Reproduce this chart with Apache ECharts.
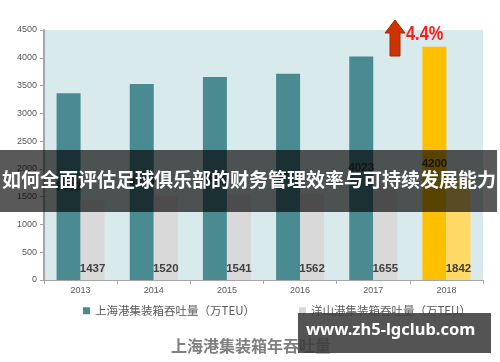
<!DOCTYPE html>
<html>
<head>
<meta charset="utf-8">
<script src="https://cdn.jsdelivr.net/npm/echarts@6/dist/echarts.min.js"></script>
<style>
html,body{margin:0;padding:0;background:#fff;}
#chart{width:500px;height:362px;}
</style>
</head>
<body>
<div id="chart"></div>
<script>
// Data
const years = ['2013', '2014', '2015', '2016', '2017', '2018'];
const shanghaiPort = [3362, 3529, 3654, 3713, 4023, 4200];
const yangshanPort = [1437, 1520, 1541, 1562, 1655, 1842];
const seriesNames = ['上海港集装箱吞吐量（万TEU）', '洋山港集装箱吞吐量（万TEU）'];
const yTicks = [0, 500, 1000, 1500, 2000, 2500, 3000, 3500, 4000, 4500];
const chartTitle = '上海港集装箱年吞吐量';
const growthLabel = '4.4%';
const bannerText = '如何全面评估足球俱乐部的财务管理效率与可持续发展能力';
const watermarkText = 'www.zh5-lgclub.com';

const highlightIndex = years.length - 1;
const tealColor = '#4A8B92';
const grayColor = '#D9D9D9';

const chart = echarts.init(document.getElementById('chart'), null, {renderer: 'canvas'});
const option = {
  animation: false,
  backgroundColor: '#ffffff',
  textStyle: {fontFamily: 'Liberation Sans, Arial, sans-serif'},
  title: {
    text: chartTitle,
    left: 166,
    top: 333,
    textStyle: {fontSize: 16, fontWeight: 'bold', color: '#7F7F7F', fontFamily: 'Noto Sans CJK SC'}
  },
  legend: {
    data: seriesNames.map(n => ({name: n, icon: 'rect'})),
    left: 78,
    top: 300,
    itemWidth: 7,
    itemHeight: 7,
    itemGap: 44,
    textStyle: {fontSize: 11.5, color: '#595959', fontFamily: 'Noto Sans CJK SC'}
  },
  grid: {
    left: 44, top: 30, width: 439, height: 250,
    show: true, backgroundColor: '#D9EAEC', borderWidth: 0
  },
  xAxis: {
    type: 'category',
    data: years,
    axisLine: {lineStyle: {color: '#A6A6A6', width: 1}},
    axisTick: {show: true, length: 4, lineStyle: {color: '#A6A6A6'}},
    axisLabel: {fontSize: 9, color: '#595959', margin: 6}
  },
  yAxis: {
    type: 'value',
    min: yTicks[0],
    max: yTicks[yTicks.length - 1],
    interval: 500,
    splitLine: {show: false},
    axisLine: {show: true, lineStyle: {color: '#A6A6A6', width: 2}},
    axisTick: {show: true, length: 4, lineStyle: {color: '#A6A6A6'}},
    axisLabel: {fontSize: 9, color: '#595959', margin: 7, formatter: v => String(v)}
  },
  series: [
    {
      name: seriesNames[0],
      type: 'bar',
      barWidth: 24,
      barGap: '0%',
      itemStyle: {color: tealColor},
      data: shanghaiPort.map((v, i) => i === highlightIndex ? {value: v, itemStyle: {color: '#FFC000'}} : v),
      label: {show: true, position: 'inside', fontSize: 11.5, fontWeight: 'bold', color: '#404040'}
    },
    {
      name: seriesNames[1],
      type: 'bar',
      barWidth: 24,
      barGap: '0%',
      itemStyle: {color: grayColor},
      data: yangshanPort.map((v, i) => i === highlightIndex ? {value: v, itemStyle: {color: '#FFD966'}} : v),
      label: {show: true, position: 'insideBottom', distance: 5, fontSize: 11.5, fontWeight: 'bold', color: '#404040'}
    }
  ],
  graphic: [
    {
      type: 'polygon', z: 100,
      shape: {points: [[385, 33], [395, 20], [405, 33], [400, 33], [400, 56], [390, 56], [390, 33]]},
      style: {fill: '#CC3300', stroke: '#A62900', lineWidth: 1}
    },
    {
      type: 'text', z: 100, x: 406, y: 24, scaleX: 0.78,
      style: {text: growthLabel, fill: '#FF1A1A', font: 'bold 21px "Liberation Sans", sans-serif'}
    },
    {
      type: 'rect', z: 200,
      shape: {x: 0, y: 150, width: 497, height: 62},
      style: {fill: 'rgba(0,0,0,0.65)'}
    },
    {
      type: 'text', z: 201, left: 2, top: 170,
      style: {text: bannerText, fill: '#ffffff', font: 'bold 19px "Noto Sans CJK SC", sans-serif'}
    },
    {
      type: 'rect', z: 200,
      shape: {x: 298, y: 313, width: 193, height: 40},
      style: {fill: 'rgba(60,60,60,0.88)'}
    },
    {
      type: 'text', z: 201, left: 306, top: 322,
      style: {text: watermarkText, fill: '#ffffff', font: 'bold 16.5px "Noto Sans", "DejaVu Sans", sans-serif'}
    }
  ]
};
chart.setOption(option);
</script>
</body>
</html>
